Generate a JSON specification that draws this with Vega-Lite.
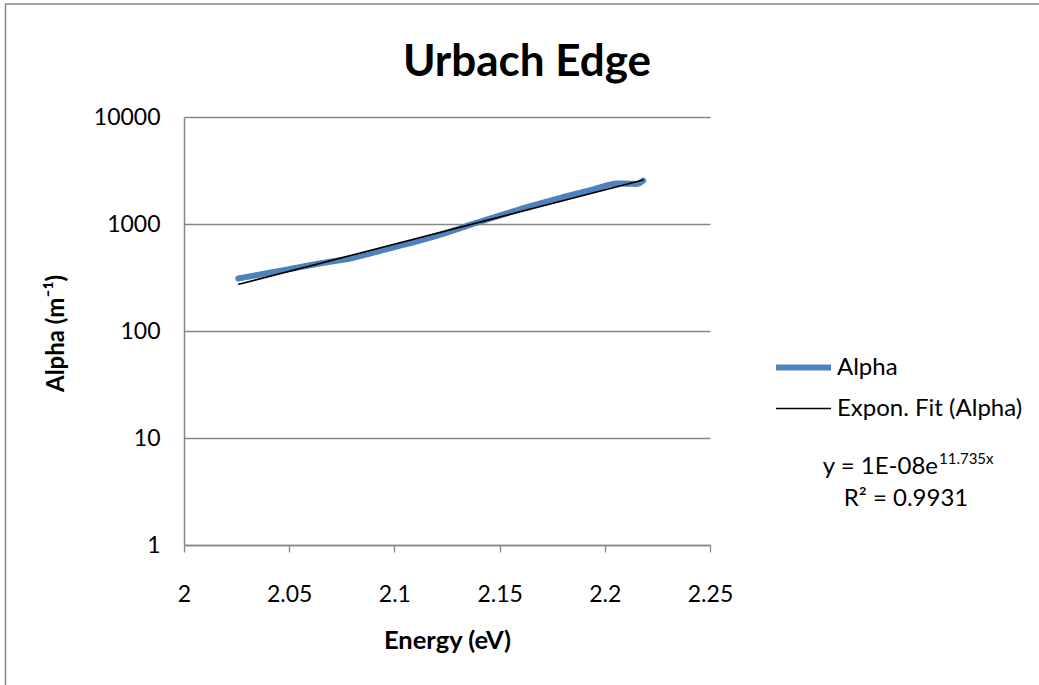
{
  "$schema": "https://vega.github.io/schema/vega-lite/v6.json",
  "width": 526,
  "height": 428,
  "autosize": {"type": "none"},
  "padding": {"left": 184, "top": 117, "right": 329, "bottom": 140},
  "background": "white",
  "config": {
    "view": {"stroke": null},
    "font": "Lato",
    "axis": {"labelFont": "Lato", "titleFont": "Lato", "labelColor": "black", "titleColor": "black"}
  },
  "title": {
    "text": "Urbach Edge",
    "font": "Lato",
    "fontSize": 44,
    "fontWeight": "bold",
    "color": "black",
    "anchor": "middle",
    "dx": 80,
    "offset": -82
  },
  "datasets": {
    "lines": [
      {"energy": 2.0258, "alpha": 310, "series": "Alpha"},
      {"energy": 2.035, "alpha": 334, "series": "Alpha"},
      {"energy": 2.045, "alpha": 363, "series": "Alpha"},
      {"energy": 2.055, "alpha": 395, "series": "Alpha"},
      {"energy": 2.065, "alpha": 430, "series": "Alpha"},
      {"energy": 2.08, "alpha": 481, "series": "Alpha"},
      {"energy": 2.095, "alpha": 573, "series": "Alpha"},
      {"energy": 2.112, "alpha": 699, "series": "Alpha"},
      {"energy": 2.125, "alpha": 831, "series": "Alpha"},
      {"energy": 2.137, "alpha": 998, "series": "Alpha"},
      {"energy": 2.15, "alpha": 1200, "series": "Alpha"},
      {"energy": 2.165, "alpha": 1477, "series": "Alpha"},
      {"energy": 2.18, "alpha": 1779, "series": "Alpha"},
      {"energy": 2.195, "alpha": 2120, "series": "Alpha"},
      {"energy": 2.206, "alpha": 2395, "series": "Alpha"},
      {"energy": 2.211, "alpha": 2380, "series": "Alpha"},
      {"energy": 2.2153, "alpha": 2370, "series": "Alpha"},
      {"energy": 2.2182, "alpha": 2540, "series": "Alpha"},
      {"energy": 2.0261, "alpha": 273, "series": "Expon. Fit (Alpha)"},
      {"energy": 2.2182, "alpha": 2578, "series": "Expon. Fit (Alpha)"}
    ]
  },
  "layer": [
    {
      "data": {"values": [{}]},
      "mark": {"type": "rect", "fill": null, "stroke": "#868686", "strokeWidth": 1.5},
      "encoding": {
        "x": {"datum": 1.91516, "type": "quantitative", "scale": {"domain": [2, 2.25], "nice": false}},
        "x2": {"datum": 2.40922},
        "y": {"datum": 113800, "type": "quantitative", "scale": {"type": "log", "domain": [1, 10000], "nice": false}},
        "y2": {"datum": 0.0423}
      }
    },
    {
      "data": {"name": "lines"},
      "mark": {"type": "line", "strokeCap": "round", "strokeJoin": "round", "interpolate": "monotone"},
      "encoding": {
        "x": {
          "field": "energy", "type": "quantitative",
          "scale": {"domain": [2, 2.25], "nice": false},
          "axis": {
            "title": "Energy (eV)",
            "values": [2, 2.05, 2.1, 2.15, 2.2, 2.25],
            "format": ".2~f",
            "grid": false,
            "domainColor": "#868686",
            "domainWidth": 1.5,
            "tickColor": "#868686",
            "tickWidth": 1.3,
            "tickSize": 7,
            "labelFontSize": 23,
            "labelPadding": 31,
            "labelFlush": false,
            "titleFontSize": 25.5,
            "titleFontWeight": "bold",
            "titleY": 95,
            "titleBaseline": "middle"
          }
        },
        "y": {
          "field": "alpha", "type": "quantitative",
          "scale": {"type": "log", "domain": [1, 10000], "nice": false},
          "axis": {
            "title": "Alpha (m⁻¹)",
            "values": [1, 10, 100, 1000, 10000],
            "format": "d",
            "grid": true,
            "gridColor": "#868686",
            "gridWidth": 1.3,
            "domainColor": "#868686",
            "domainWidth": 1.5,
            "ticks": false,
            "labelFontSize": 23,
            "labelPadding": 24,
            "labelFlush": false,
            "titleFontSize": 24,
            "titleFontWeight": "bold",
            "titleX": -116,
            "titleY": 216
          }
        },
        "color": {
          "field": "series", "type": "nominal",
          "scale": {"domain": ["Alpha", "Expon. Fit (Alpha)"], "range": ["#4F81BD", "#000000"]},
          "legend": {
            "title": null,
            "orient": "none",
            "legendX": 589,
            "legendY": 220,
            "symbolType": "stroke",
            "symbolSize": 3025,
            "labelFont": "Lato",
            "labelFontSize": 24,
            "labelColor": "black",
            "labelLimit": 300,
            "labelOffset": 3,
            "rowPadding": -9
          }
        },
        "strokeWidth": {
          "field": "series", "type": "nominal",
          "scale": {"type": "ordinal", "domain": ["Alpha", "Expon. Fit (Alpha)"], "range": [6, 1.6]},
          "legend": {
            "title": null,
            "orient": "none",
            "legendX": 589,
            "legendY": 220,
            "symbolType": "stroke",
            "symbolSize": 3025,
            "labelFont": "Lato",
            "labelFontSize": 24,
            "labelColor": "black",
            "labelLimit": 300,
            "labelOffset": 3,
            "rowPadding": -9
          }
        }
      }
    },
    {
      "data": {"values": [{}]},
      "mark": {"type": "text", "text": "y = 1E-08e", "align": "right", "baseline": "middle", "font": "Lato", "fontSize": 24, "color": "black"},
      "encoding": {
        "x": {"datum": 2.35837, "type": "quantitative"},
        "y": {"datum": 5.36, "type": "quantitative"}
      }
    },
    {
      "data": {"values": [{}]},
      "mark": {"type": "text", "text": "11.735x", "align": "left", "baseline": "middle", "font": "Lato", "fontSize": 15, "color": "black"},
      "encoding": {
        "x": {"datum": 2.35884, "type": "quantitative"},
        "y": {"datum": 6.4, "type": "quantitative"}
      }
    },
    {
      "data": {"values": [{}]},
      "mark": {"type": "text", "text": "R² = 0.9931", "align": "center", "baseline": "middle", "font": "Lato", "fontSize": 24, "color": "black"},
      "encoding": {
        "x": {"datum": 2.34316, "type": "quantitative"},
        "y": {"datum": 2.72, "type": "quantitative"}
      }
    }
  ]
}
